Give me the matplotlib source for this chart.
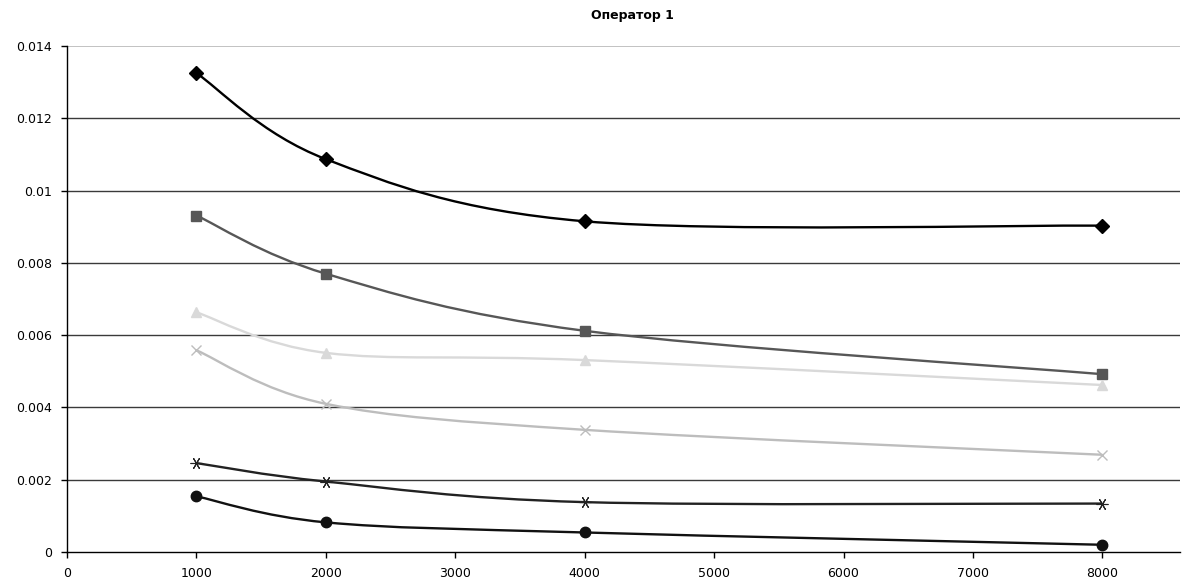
import numpy as np
import matplotlib
matplotlib.use("Agg")
import matplotlib.pyplot as plt
from matplotlib.path import Path
from matplotlib.patches import PathPatch

plt.rcParams['font.family'] = ['DejaVu Sans']

title = "Оператор 1"
x_vals = [1000, 2000, 4000, 8000]
s_diamond = [0.01325, 0.01087, 0.00915, 0.00903]
s_square = [0.00931, 0.00770, 0.00612, 0.00492]
s_triangle = [0.00663, 0.00551, 0.00531, 0.00462]
s_cross = [0.00558, 0.00410, 0.00338, 0.00269]
s_star = [0.00246, 0.00195, 0.00138, 0.00134]
s_circle = [0.00154, 0.00082, 0.00054, 0.00020]

series = [
    (s_diamond, '#000000', 'D', 7, 1.0),
    (s_square, '#575757', 's', 6.5, 1.0),
    (s_triangle, '#d9d9d9', '^', 7, 1.0),
    (s_cross, '#bdbdbd', 'x', 7, 1.0),
    (s_star, '#222222', (6, 2, 30), 8.5, 0.8),
    (s_circle, '#111111', 'o', 7.5, 1.0),
]

fig = plt.figure(figsize=(11.82, 5.8), dpi=100)
ax = fig.add_axes([67/1182, 1-552/580, (1180-67)/1182, (552-46)/580])


def smooth_path(xs, ys):
    pts = np.column_stack([xs, ys]).astype(float)
    n = len(pts)
    verts = [pts[0]]
    codes = [Path.MOVETO]
    for i in range(n - 1):
        p0 = pts[i - 1] if i > 0 else pts[i]
        p1 = pts[i]
        p2 = pts[i + 1]
        p3 = pts[i + 2] if i + 2 < n else pts[i + 1]
        c1 = p1 + (p2 - p0) / 6.0
        c2 = p2 - (p3 - p1) / 6.0
        verts += [c1, c2, p2]
        codes += [Path.CURVE4] * 3
    return Path(verts, codes)


for ys, col, mk, ms, mew in series:
    patch = PathPatch(smooth_path(x_vals, ys), facecolor='none', edgecolor=col,
                      linewidth=1.7, zorder=3)
    ax.add_patch(patch)
    ax.plot(x_vals, ys, linestyle='none', marker=mk, markersize=ms, color=col,
            markeredgecolor=col, markeredgewidth=mew, zorder=4)

ax.set_xlim(0, 8600)
ax.set_ylim(0, 0.014)
ax.set_xticks(range(0, 9000, 1000))
ax.set_yticks([0, 0.002, 0.004, 0.006, 0.008, 0.01, 0.012, 0.014])
ax.set_yticklabels(['0', '0.002', '0.004', '0.006', '0.008', '0.01', '0.012', '0.014'])

for yv in [0.002, 0.004, 0.006, 0.008, 0.01, 0.012]:
    ax.axhline(yv, color='#3a3a3a', linewidth=1.0, zorder=1)
ax.axhline(0.014, color='#b8b8b8', linewidth=1.2, zorder=1)

for s in ['top', 'right']:
    ax.spines[s].set_visible(False)
ax.spines['left'].set_color('black')
ax.spines['bottom'].set_color('black')
ax.spines['left'].set_linewidth(1.0)
ax.spines['bottom'].set_linewidth(1.0)
ax.tick_params(axis='both', direction='out', length=4, width=1, labelsize=9,
               colors='black')
ax.tick_params(axis='x', pad=7)
ax.tick_params(axis='y', pad=7)

fig.text(632/1182, 1-15/580, title, ha='center', va='center', fontsize=9,
         fontweight='bold')

fig.savefig('out.png', dpi=100, facecolor='white')
